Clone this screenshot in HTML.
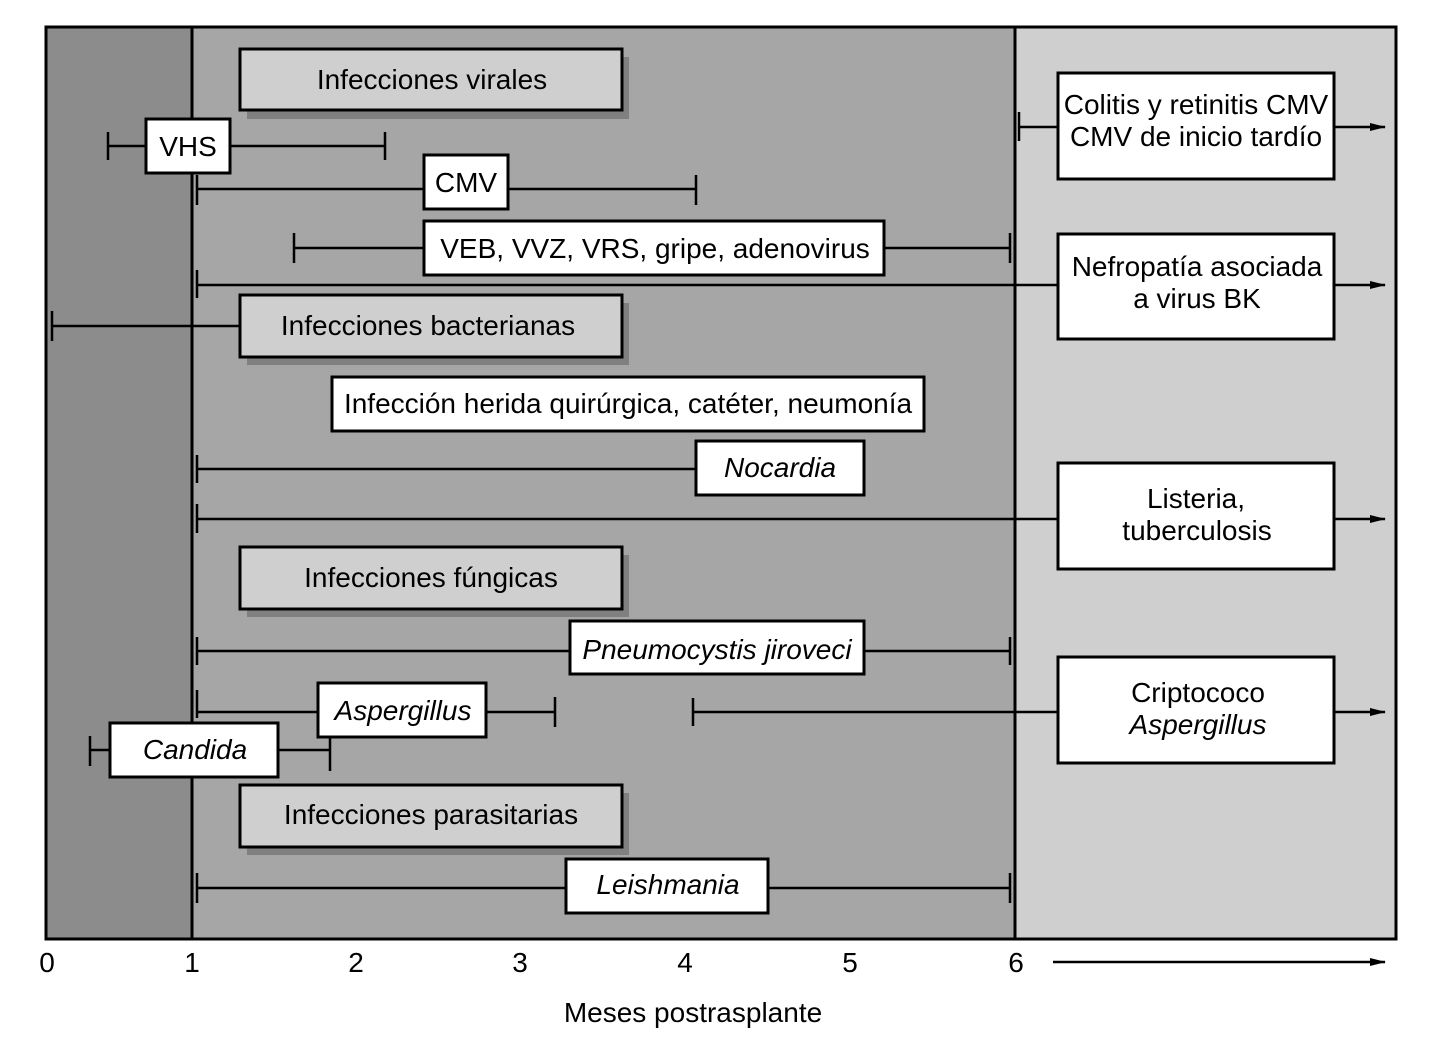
<!DOCTYPE html>
<html><head><meta charset="utf-8"><style>
html,body{margin:0;padding:0;background:#fff;}
svg text{font-family:"Liberation Sans",sans-serif;font-size:28px;fill:#000;}
</style></head><body>
<svg width="1440" height="1051" viewBox="0 0 1440 1051" xmlns="http://www.w3.org/2000/svg">
<defs><marker id="ar" markerWidth="16" markerHeight="10" refX="15" refY="5" orient="auto" markerUnits="userSpaceOnUse"><path d="M0,1 L16,5 L0,9 Z" fill="#000"/></marker></defs>
<rect x="0" y="0" width="1440" height="1051" fill="#fff"/>
<rect x="46" y="27" width="146" height="912" fill="#8c8c8c"/>
<rect x="192" y="27" width="823" height="912" fill="#a6a6a6"/>
<rect x="1015" y="27" width="381" height="912" fill="#cfcfcf"/>
<rect x="46" y="27" width="1350" height="912" fill="none" stroke="#000" stroke-width="3"/>
<line x1="192" y1="27" x2="192" y2="939" stroke="#000" stroke-width="3"/>
<line x1="1015" y1="27" x2="1015" y2="939" stroke="#000" stroke-width="3"/>
<g stroke="#000" stroke-width="2.5" fill="none">
<line x1="108" y1="146" x2="385" y2="146"/><line x1="108" y1="132" x2="108" y2="160"/><line x1="385" y1="132" x2="385" y2="160"/>
<line x1="197" y1="189" x2="696" y2="189"/><line x1="197" y1="175" x2="197" y2="205"/><line x1="696" y1="175" x2="696" y2="205"/>
<line x1="294" y1="248" x2="1010" y2="248"/><line x1="294" y1="233" x2="294" y2="263"/><line x1="1010" y1="233" x2="1010" y2="263"/>
<line x1="197" y1="285" x2="1058" y2="285"/><line x1="197" y1="270" x2="197" y2="298"/>
<line x1="1334" y1="285" x2="1385" y2="285" marker-end="url(#ar)"/>
<line x1="1019" y1="127" x2="1058" y2="127"/><line x1="1019" y1="112" x2="1019" y2="141"/>
<line x1="1334" y1="127" x2="1385" y2="127" marker-end="url(#ar)"/>
<line x1="52" y1="326" x2="240" y2="326"/><line x1="52" y1="311" x2="52" y2="341"/>
<line x1="197" y1="469" x2="696" y2="469"/><line x1="197" y1="455" x2="197" y2="483"/>
<line x1="197" y1="519" x2="1058" y2="519"/><line x1="197" y1="504" x2="197" y2="533"/>
<line x1="1334" y1="519" x2="1385" y2="519" marker-end="url(#ar)"/>
<line x1="197" y1="651" x2="1010" y2="651"/><line x1="197" y1="637" x2="197" y2="665"/><line x1="1010" y1="637" x2="1010" y2="665"/>
<line x1="197" y1="712" x2="555" y2="712"/><line x1="197" y1="690" x2="197" y2="718"/><line x1="555" y1="697" x2="555" y2="727"/>
<line x1="693" y1="712" x2="1058" y2="712"/><line x1="693" y1="698" x2="693" y2="726"/>
<line x1="1334" y1="712" x2="1385" y2="712" marker-end="url(#ar)"/>
<line x1="90" y1="750" x2="330" y2="750"/><line x1="90" y1="736" x2="90" y2="766"/><line x1="330" y1="736" x2="330" y2="771"/>
<line x1="197" y1="888" x2="1010" y2="888"/><line x1="197" y1="873" x2="197" y2="903"/><line x1="1010" y1="873" x2="1010" y2="903"/>
<line x1="1053" y1="962" x2="1385" y2="962" marker-end="url(#ar)"/>
</g>
<g>
<rect x="247" y="57" width="382" height="62" fill="#808080"/>
<rect x="240" y="49" width="382" height="61" fill="#cfcfcf" stroke="#000" stroke-width="3"/>
<rect x="247" y="303" width="382" height="62" fill="#808080"/>
<rect x="240" y="295" width="382" height="62" fill="#cfcfcf" stroke="#000" stroke-width="3"/>
<rect x="247" y="555" width="382" height="62" fill="#808080"/>
<rect x="240" y="547" width="382" height="62" fill="#cfcfcf" stroke="#000" stroke-width="3"/>
<rect x="247" y="793" width="382" height="62" fill="#808080"/>
<rect x="240" y="785" width="382" height="62" fill="#cfcfcf" stroke="#000" stroke-width="3"/>
</g>
<g fill="#fff" stroke="#000" stroke-width="3">
<rect x="146" y="119" width="84" height="54"/>
<rect x="424" y="155" width="84" height="54"/>
<rect x="424" y="221" width="460" height="54"/>
<rect x="1058" y="73" width="276" height="106"/>
<rect x="1058" y="234" width="276" height="105"/>
<rect x="332" y="377" width="592" height="54"/>
<rect x="696" y="441" width="168" height="54"/>
<rect x="1058" y="463" width="276" height="106"/>
<rect x="570" y="621" width="294" height="53"/>
<rect x="318" y="683" width="168" height="54"/>
<rect x="1058" y="657" width="276" height="106"/>
<rect x="110" y="723" width="168" height="54"/>
<rect x="566" y="859" width="202" height="54"/>
</g>
<g text-anchor="middle">
<text x="432" y="89">Infecciones virales</text>
<text x="188" y="156">VHS</text>
<text x="466" y="192">CMV</text>
<text x="655" y="258">VEB, VVZ, VRS, gripe, adenovirus</text>
<text x="1196" y="114">Colitis y retinitis CMV</text>
<text x="1196" y="146">CMV de inicio tardío</text>
<text x="1197" y="276">Nefropatía asociada</text>
<text x="1197" y="308">a virus BK</text>
<text x="428" y="335">Infecciones bacterianas</text>
<text x="628" y="413">Infección herida quirúrgica, catéter, neumonía</text>
<text x="780" y="477" font-style="italic">Nocardia</text>
<text x="1196" y="508">Listeria,</text>
<text x="1197" y="540">tuberculosis</text>
<text x="431" y="587">Infecciones fúngicas</text>
<text x="717" y="659" font-style="italic">Pneumocystis jiroveci</text>
<text x="403" y="720" font-style="italic">Aspergillus</text>
<text x="1198" y="702">Criptococo</text>
<text x="1198" y="734" font-style="italic">Aspergillus</text>
<text x="195" y="759" font-style="italic">Candida</text>
<text x="431" y="824">Infecciones parasitarias</text>
<text x="668" y="894" font-style="italic">Leishmania</text>
<text x="47" y="972" font-size="24">0</text>
<text x="192" y="972" font-size="24">1</text>
<text x="356" y="972" font-size="24">2</text>
<text x="520" y="972" font-size="24">3</text>
<text x="685" y="972" font-size="24">4</text>
<text x="850" y="972" font-size="24">5</text>
<text x="1016" y="972" font-size="24">6</text>
<text x="693" y="1022">Meses postrasplante</text>
</g>
</svg>
</body></html>
